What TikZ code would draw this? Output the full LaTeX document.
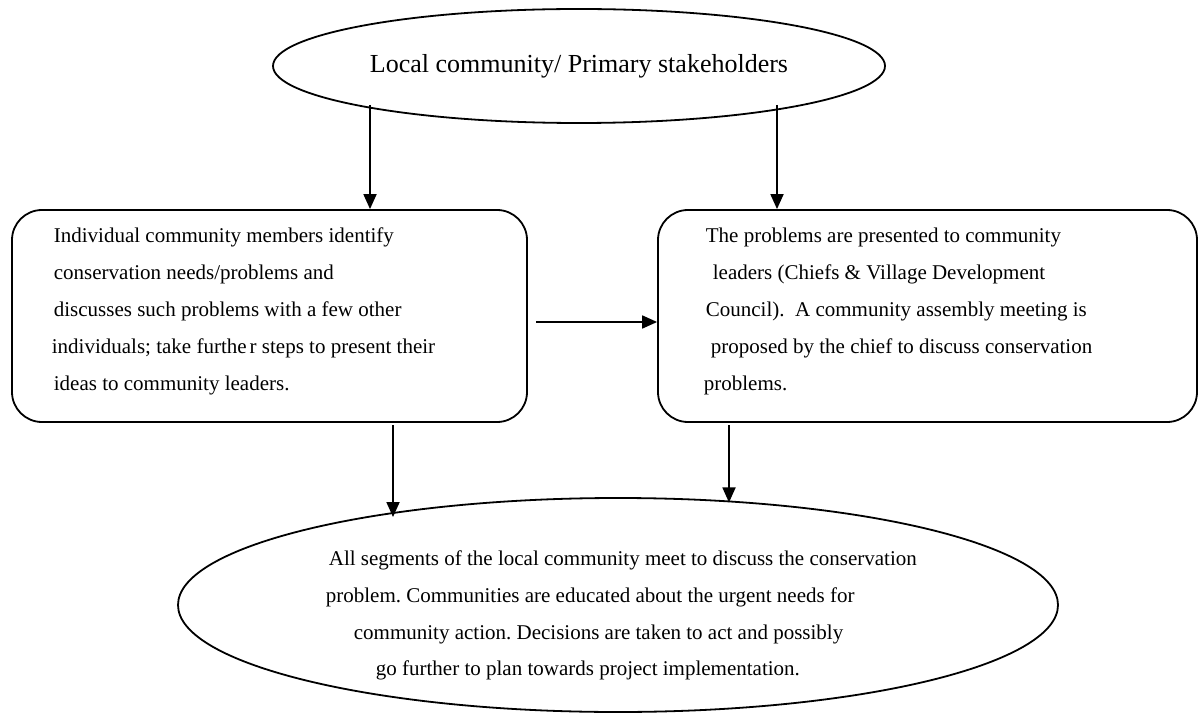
\documentclass[tikz,border=0pt]{standalone}
\usepackage{fontspec}
\setmainfont{Liberation Serif}
\usetikzlibrary{arrows.meta,shapes.geometric,intersections}
\frenchspacing
\begin{document}
\begin{tikzpicture}[x=1pt,y=-1pt,
  line width=1.8pt,
  oval/.style={draw, ellipse, inner sep=0pt},
  card/.style={draw, rounded corners=30pt, inner sep=0pt},
  body/.style={align=left, font=\fontsize{21}{37}\selectfont, inner sep=0pt, anchor=north west},
  link/.style={-{Triangle[width=13pt,length=15pt]}, line width=1.8pt}]
\useasboundingbox (0,0) rectangle (1199,719);

% shapes
\node[oval, minimum width=612pt, minimum height=114pt,
      font=\fontsize{26}{30}\selectfont] (top) at (579,66) {Local community/ Primary stakeholders};
\node[card, minimum width=515pt, minimum height=212pt] (lbox) at (269.5,316) {};
\node[card, minimum width=539pt, minimum height=212pt] (rbox) at (927.5,316) {};
\node[oval, minimum width=880pt, minimum height=214pt, name path=bottomoval] (bottom) at (618,605) {};

% texts
\node[body] (ltext) at (53,227) {Individual community members identify\\
  conservation needs/problems and\\
  discusses such problems with a few other\\
  \hspace*{-2pt}individuals; take furthe\hspace{3pt}r steps to present their\\
  ideas to community leaders.};
\node[body] (rtext) at (703,227) {\hspace*{2pt}The problems are presented to community\\
  \hspace*{9pt}leaders (Chiefs \& Village Development\\
  \hspace*{2pt}Council).\ \ A community assembly meeting is\\
  \hspace*{7pt}proposed by the chief to discuss conservation\\
  problems.};
\node[body, font=\fontsize{21}{36.7}\selectfont] (btext) at (325,550)
  {\hspace*{3pt}All segments of the local community meet to discuss the conservation\\
  problem. Communities are educated about the urgent needs for\\
  \hspace*{28pt}community action. Decisions are taken to act and possibly\\
  \hspace*{50pt}go further to plan towards project implementation.};

% connectors
\coordinate (s1) at (370,105);
\coordinate (s2) at (777,105);
\coordinate (s3) at (536,322);
\coordinate (s4) at (393,425);
\coordinate (s5) at (729,425);
\draw[link] (s1) -- (s1 |- lbox.north);
\draw[link] (s2) -- (s2 |- rbox.north);
\draw[link] (s3) -- (s3 -| rbox.west);
\path[name path=v4] (s4) -- ++(0,150);
\path[name path=v5] (s5) -- ++(0,150);
\draw[link, name intersections={of=v4 and bottomoval, by={e4}}] (s4) -- ([yshift=-4pt]e4);
\draw[link, name intersections={of=v5 and bottomoval, by={e5}}] (s5) -- ([yshift=-1pt]e5);
\end{tikzpicture}
\end{document}
